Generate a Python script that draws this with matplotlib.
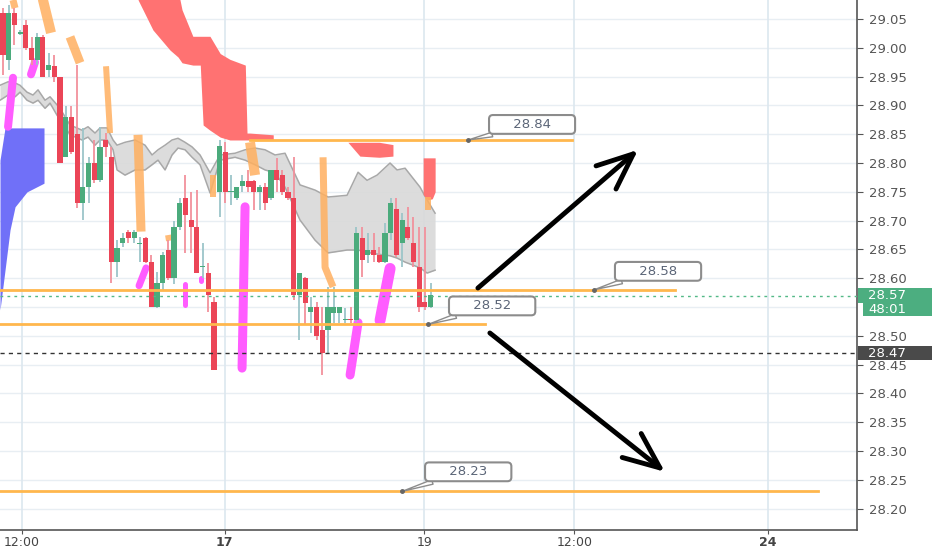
import numpy as np
import matplotlib
matplotlib.use("Agg")
import matplotlib.pyplot as plt
import matplotlib.transforms as mtransforms
from matplotlib.patches import Rectangle

# ---- velas (indice de barra, precio) ----
opens = [29.060, 28.979, 29.060, 29.024, 29.040, 29.000, 28.979, 29.019, 28.961, 28.968,
         28.949, 28.810, 28.880, 28.850, 28.731, 28.758, 28.800, 28.770, 28.840, 28.810,
         28.628, 28.661, 28.680, 28.670, 28.660, 28.670, 28.628, 28.550, 28.592, 28.649,
         28.600, 28.689, 28.739, 28.701, 28.689, 28.619, 28.609, 28.559, 28.750, 28.819,
         28.750, 28.739, 28.760, 28.769, 28.769, 28.750, 28.758, 28.739, 28.788, 28.779,
         28.750, 28.739, 28.571, 28.600, 28.541, 28.550, 28.510, 28.510, 28.540, 28.540,
         28.527, 28.528, 28.527, 28.670, 28.640, 28.649, 28.640, 28.628, 28.678, 28.720,
         28.661, 28.689, 28.661, 28.619, 28.559, 28.550]
highs = [29.069, 29.074, 29.069, 29.031, 29.048, 29.019, 29.026, 29.022, 28.991, 28.988,
         28.949, 28.899, 28.899, 28.970, 28.861, 28.810, 28.840, 28.862, 28.852, 28.828,
         28.666, 28.678, 28.684, 28.684, 28.672, 28.672, 28.640, 28.611, 28.645, 28.666,
         28.700, 28.739, 28.779, 28.750, 28.753, 28.661, 28.626, 28.567, 28.840, 28.836,
         28.779, 28.758, 28.779, 28.788, 28.770, 28.762, 28.765, 28.788, 28.809, 28.788,
         28.758, 28.810, 28.609, 28.602, 28.567, 28.559, 28.550, 28.585, 28.585, 28.550,
         28.548, 28.550, 28.689, 28.689, 28.678, 28.678, 28.654, 28.696, 28.739, 28.739,
         28.713, 28.724, 28.706, 28.689, 28.689, 28.592]
lows = [28.953, 28.961, 29.005, 29.022, 28.996, 28.970, 28.970, 28.949, 28.949, 28.941,
        28.800, 28.810, 28.815, 28.722, 28.701, 28.731, 28.765, 28.767, 28.810, 28.592,
        28.602, 28.654, 28.661, 28.661, 28.628, 28.626, 28.550, 28.548, 28.580, 28.597,
        28.590, 28.684, 28.644, 28.644, 28.609, 28.600, 28.541, 28.441, 28.706, 28.731,
        28.727, 28.736, 28.750, 28.750, 28.718, 28.718, 28.718, 28.736, 28.750, 28.745,
        28.736, 28.562, 28.493, 28.519, 28.505, 28.493, 28.432, 28.470, 28.522, 28.522,
        28.522, 28.522, 28.524, 28.602, 28.626, 28.628, 28.626, 28.626, 28.666, 28.637,
        28.619, 28.666, 28.619, 28.541, 28.545, 28.548]
closes = [28.988, 29.060, 29.040, 29.027, 29.000, 28.979, 29.019, 28.949, 28.970, 28.949,
          28.800, 28.880, 28.819, 28.731, 28.758, 28.800, 28.770, 28.828, 28.828, 28.628,
          28.652, 28.670, 28.670, 28.680, 28.661, 28.628, 28.550, 28.592, 28.640, 28.600,
          28.689, 28.731, 28.710, 28.689, 28.609, 28.620, 28.571, 28.441, 28.830, 28.750,
          28.751, 28.758, 28.769, 28.758, 28.750, 28.758, 28.731, 28.788, 28.770, 28.750,
          28.739, 28.571, 28.609, 28.557, 28.550, 28.500, 28.470, 28.550, 28.550, 28.550,
          28.528, 28.527, 28.678, 28.632, 28.649, 28.640, 28.628, 28.678, 28.731, 28.640,
          28.701, 28.670, 28.628, 28.550, 28.550, 28.571]

# ---- banda gris ----
gray_x = [-0.53, 0.88, 2.11, 2.98, 4.21, 5.26, 6.14, 7.37, 8.25, 9.47, 10.35, 11.75, 13.86,
          14.91, 16.14, 17.02, 18.25, 19.3, 20.0, 21.4, 23.16, 24.91, 26.14, 27.19, 28.42,
          29.65, 30.7, 31.93, 33.16, 34.56, 36.32, 38.07, 40.7, 42.46, 44.21, 45.96, 47.72,
          49.47, 52.1, 54.74, 57.02, 60.35, 62.28, 63.86, 65.61, 67.89, 69.12, 70.53, 73.16,
          74.39, 75.79]
gray_up = [28.935, 28.941, 28.939, 28.935, 28.923, 28.918, 28.927, 28.909, 28.915, 28.901,
           28.889, 28.866, 28.857, 28.863, 28.852, 28.861, 28.861, 28.840, 28.831, 28.836,
           28.840, 28.831, 28.814, 28.823, 28.831, 28.840, 28.843, 28.836, 28.828, 28.814,
           28.783, 28.814, 28.817, 28.823, 28.826, 28.823, 28.814, 28.817, 28.762, 28.753,
           28.741, 28.744, 28.784, 28.770, 28.779, 28.800, 28.788, 28.791, 28.758, 28.736,
           28.713]
gray_lo = [28.909, 28.918, 28.915, 28.923, 28.909, 28.904, 28.909, 28.895, 28.904, 28.883,
           28.871, 28.849, 28.840, 28.845, 28.831, 28.840, 28.840, 28.823, 28.788, 28.779,
           28.788, 28.788, 28.797, 28.805, 28.788, 28.814, 28.826, 28.823, 28.810, 28.797,
           28.748, 28.805, 28.810, 28.805, 28.797, 28.788, 28.783, 28.758, 28.701, 28.666,
           28.644, 28.649, 28.649, 28.645, 28.642, 28.639, 28.635, 28.628, 28.618, 28.609,
           28.614]

# ---- nubes ----
blue_x = [-0.53, 0.35, 1.23, 2.11, 4.21, 7.19]
blue_up = [28.805, 28.861, 28.861, 28.861, 28.861, 28.861]
blue_lo = [28.545, 28.614, 28.684, 28.724, 28.750, 28.765]

red_x = [23.7, 26.3, 29.3, 30.7, 31.4, 33.3, 34.6, 35.1, 36.3, 38.1, 39.8, 42.5, 42.8, 43.3, 47.4]
red_up = [29.10, 29.10, 29.10, 29.10, 29.066, 29.02, 29.02, 29.02, 29.02, 28.99, 28.98, 28.97,
          28.852, 28.852, 28.849]
red_lo = [29.083, 29.031, 28.996, 28.984, 28.974, 28.970, 28.970, 28.866, 28.857, 28.845,
          28.840, 28.840, 28.840, 28.840, 28.840]
red2_x = [60.5, 62.6, 66.0, 68.4]
red2_up = [28.836, 28.836, 28.836, 28.832]
red2_lo = [28.836, 28.812, 28.810, 28.812]
red3_x = [73.7, 74.5, 75.3, 75.8]
red3_up = [28.809, 28.809, 28.809, 28.809]
red3_lo = [28.745, 28.736, 28.738, 28.750]

# ---- trazos inclinados (x, precio), grosor en pixeles ----
orange_segs = [([1.75, 2.11], [29.083, 29.069]),
               ([6.84, 8.42], [29.090, 29.026]),
               ([11.75, 13.51], [29.019, 28.974]),
               ([18.07, 18.77], [28.968, 28.852]),
               ([23.68, 24.21], [28.849, 28.681]),
               ([28.95, 29.12], [28.675, 28.665]),
               ([36.84, 36.84], [28.779, 28.741]),
               ([43.33, 44.21], [28.836, 28.779]),
               ([56.14, 56.49, 57.89], [28.810, 28.619, 28.585]),
               ([74.56, 74.56], [28.741, 28.718])]
orange_w = [7, 10, 9, 6, 9, 6, 6, 10, 7, 6]

pink_segs = [([5.61, 4.91], [28.975, 28.954]),
             ([1.75, 0.88], [28.948, 28.863]),
             ([25.09, 23.86], [28.618, 28.587]),
             ([31.93, 31.93], [28.590, 28.554]),
             ([34.74, 34.74], [28.600, 28.595]),
             ([42.46, 41.93], [28.724, 28.444]),
             ([67.9, 66.14], [28.617, 28.527]),
             ([62.28, 60.88], [28.523, 28.432])]
pink_w = [8, 8, 7, 5, 5, 9, 11, 9]

# ---- niveles y etiquetas ----
level_price = [28.84, 28.58, 28.52, 28.23]
level_x0 = [43.3, -0.53, -0.53, -0.53]
level_x1 = [99.8, 117.9, 84.6, 143.0]
label_anchor_x = [81.6, 103.7, 74.6, 70.0]
label_x = [92.8, 114.9, 85.8, 81.6]
label_y = [28.867, 28.612, 28.552, 28.264]

last_price = 28.57
prev_close = 28.47
countdown = "48:01"

arrow_start = [(83.3, 28.583), (85.4, 28.505)]
arrow_end = [(111.4, 28.823), (116.1, 28.264)]

xtick_pos = [3.33, 38.9, 73.9, 100.2, 134.2]
xtick_lab = ["12:00", "17", "19", "12:00", "24"]
ytick_vals = [28.20, 28.25, 28.30, 28.35, 28.40, 28.45, 28.50, 28.60, 28.65, 28.70,
              28.75, 28.80, 28.85, 28.90, 28.95, 29.00, 29.05]

UP = '#4bab7c'
DOWN = '#eb4557'
PX = 0.72  # pixeles -> puntos a 100 dpi

fig = plt.figure(figsize=(9.32, 5.5), dpi=100)
ax = fig.add_axes([0, 20 / 550, 857 / 932, 530 / 550])
ax.set_xlim(-0.53, 149.8)
ax.set_ylim(28.163, 29.083)

# rejilla
for v in np.arange(28.20, 29.06, 0.05):
    ax.axhline(v, color='#e8eef3', lw=1, zorder=0)
for v in xtick_pos:
    ax.axvline(v, color='#dce7ef', lw=1.2, zorder=0)

# banda gris
ax.fill_between(gray_x, gray_lo, gray_up, color='#d9d9d9', alpha=0.9, lw=0, zorder=1)
ax.plot(gray_x, gray_up, color='#a8a8a8', lw=1.1, zorder=1.1)
ax.plot(gray_x, gray_lo, color='#a8a8a8', lw=1.1, zorder=1.1)

# nubes
ax.fill_between(blue_x, blue_lo, blue_up, color='#7070f8', lw=0, zorder=1.5)
ax.fill_between(red_x, red_lo, red_up, color='#ff7272', lw=0, zorder=1.5)
ax.fill_between(red2_x, red2_lo, red2_up, color='#ff7272', lw=0, zorder=1.5)
ax.fill_between(red3_x, red3_lo, red3_up, color='#ff7272', lw=0, zorder=1.5)

for (xs, ys), w in zip(orange_segs, orange_w):
    ax.plot(xs, ys, color='#ffb060', alpha=0.85, lw=w * PX, solid_capstyle='butt', zorder=2)
for (xs, ys), w in zip(pink_segs, pink_w):
    ax.plot(xs, ys, color='#ff5cff', lw=w * PX, solid_capstyle='round', zorder=2)

# velas
idx = np.arange(len(opens))
for i in idx:
    o, h, l, c = opens[i], highs[i], lows[i], closes[i]
    up = c >= o
    ax.vlines(i, l, h, color='#9cc5c9' if up else '#f2919c', lw=1.3, zorder=3)
    bot = min(o, c)
    hgt = max(abs(c - o), 0.002)
    ax.bar(i, hgt, bottom=bot, width=0.9, color=UP if up else DOWN, lw=0, zorder=3.1)

# niveles horizontales
for p, x0, x1 in zip(level_price, level_x0, level_x1):
    ax.plot([x0, x1], [p, p], color='#ffb74d', lw=2, zorder=4)

ax.axhline(last_price, color='#53b987', lw=1, ls=(0, (2, 3)), zorder=4)
ax.axhline(prev_close, color='#333333', lw=1, ls=(0, (3, 3)), zorder=4)

# etiquetas de precio
for p, ax_x, lx, ly in zip(level_price, label_anchor_x, label_x, label_y):
    ax.annotate(f"     {p:.2f}     ", xy=(ax_x, p), xytext=(lx, ly),
                ha='center', va='center', fontsize=9.5, color='#5b6577',
                bbox=dict(boxstyle='round,pad=0.22,rounding_size=0.3', fc='white',
                          ec='#8c8c8c', lw=1.5),
                arrowprops=dict(arrowstyle='wedge,tail_width=0.35', fc='white',
                                ec='#8c8c8c', lw=1, shrinkA=0, shrinkB=0,
                                relpos=(0.2, 0.0)),
                zorder=5)
    ax.plot(ax_x, p, 'o', ms=2.5, color='#666666', zorder=5.1)

# flechas
for s, e in zip(arrow_start, arrow_end):
    ax.annotate("", xy=e, xytext=s,
                arrowprops=dict(arrowstyle='->,head_length=1.3,head_width=0.55',
                                color='black', lw=3.5, mutation_scale=20,
                                shrinkA=0, shrinkB=0),
                zorder=6)

# ejes
for side in ['left', 'top']:
    ax.spines[side].set_visible(False)
for side in ['right', 'bottom']:
    ax.spines[side].set_color('#555555')
    ax.spines[side].set_linewidth(1.2)
ax.yaxis.tick_right()
ax.set_yticks(ytick_vals)
ax.set_yticklabels([f"{v:.2f}" for v in ytick_vals])
ax.tick_params(axis='y', colors='#555555', labelsize=9.5, length=4, pad=5,
               labelcolor='#555555')
ax.set_xticks(xtick_pos)
ax.set_xticklabels(xtick_lab)
ax.tick_params(axis='x', colors='#555555', labelsize=9, length=3, pad=1,
               labelcolor='#444444')
for t in ax.get_xticklabels():
    if t.get_text() in ("17", "24"):
        t.set_fontweight('bold')

# cajas del eje derecho
trans = mtransforms.blended_transform_factory(fig.transFigure, ax.transData)
boxes = [(858, last_price, 0.0245, '#4cae80', f"{last_price:.2f}"),
         (863, last_price - 0.0235, 0.0225, '#4cae80', countdown),
         (858, prev_close, 0.0245, '#4a4a4a', f"{prev_close:.2f}")]
for px, p, h, col, txt in boxes:
    fig.add_artist(Rectangle((px / 932, p - h / 2), 1 - px / 932, h, transform=trans,
                             facecolor=col, edgecolor='none', clip_on=False, zorder=10))
    fig.text(868 / 932, p, txt, transform=trans, ha='left', va='center',
             fontsize=9.5, color='white', zorder=11)

fig.savefig('out.png', dpi=100, facecolor='white')
